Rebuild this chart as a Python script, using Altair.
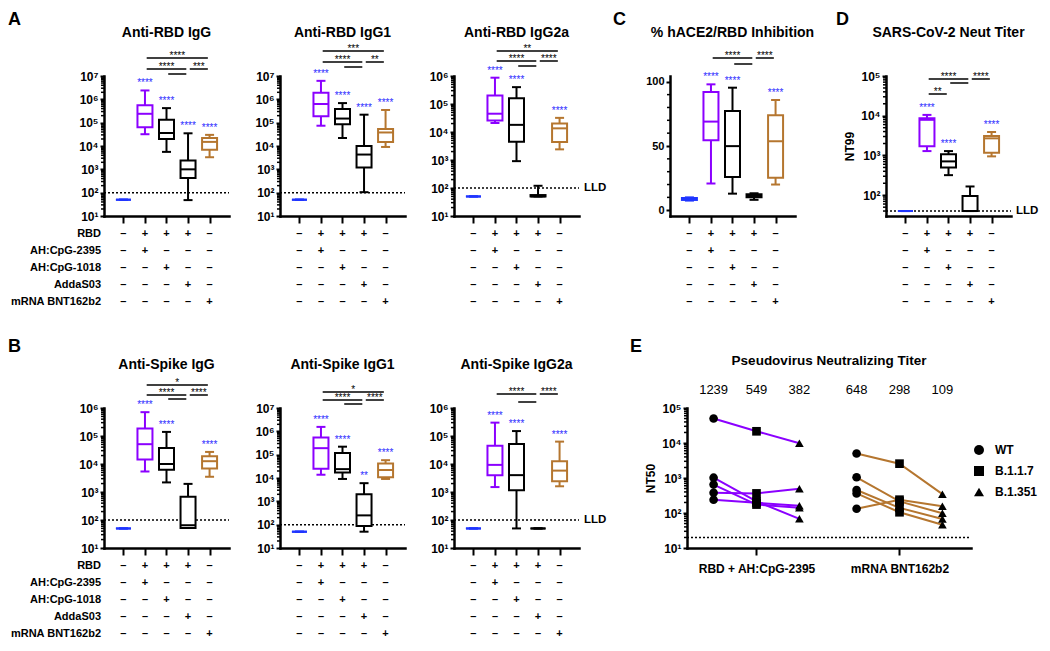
import altair as alt
import pandas as pd

FONT = "Liberation Sans"
PURPLE = "#8b00ff"
BROWN = "#b5762f"
BLACK = "#000000"
NAIVE_BLUE = "#1f35ff"
STAR_BLUE = "#2b2bff"

GROUPS = [1, 2, 3, 4, 5]
GROUP_COLORS = [NAIVE_BLUE, PURPLE, BLACK, BLACK, BROWN]

ROW_LABELS = ["RBD", "AH:CpG-2395", "AH:CpG-1018", "AddaS03", "mRNA BNT162b2"]
ROW_RBD = ["–", "+", "+", "+", "–"]
ROW_2395 = ["–", "+", "–", "–", "–"]
ROW_1018 = ["–", "–", "+", "–", "–"]
ROW_ADDA = ["–", "–", "–", "+", "–"]
ROW_MRNA = ["–", "–", "–", "–", "+"]

# box statistics per group: whisker low, Q1, median, Q3, whisker high
RBD_IGG = dict(
    lo=[50, 3.2e4, 5.6e3, 48, 3.3e3],
    q1=[50, 6.3e4, 2.0e4, 4.2e2, 6.9e3],
    med=[50, 2.4e5, 3.6e4, 1.0e3, 1.5e4],
    q3=[50, 5.6e5, 1.35e5, 2.4e3, 2.2e4],
    hi=[50, 2.4e6, 4.2e5, 3.5e4, 3.0e4],
)
RBD_IGG1 = dict(
    lo=[50, 7.4e4, 2.2e4, 105, 9.1e3],
    q1=[50, 1.9e5, 8.5e4, 1.2e3, 1.5e4],
    med=[50, 6.3e5, 1.5e5, 4.3e3, 3.8e4],
    q3=[50, 1.9e6, 3.9e5, 1.0e4, 5.4e4],
    hi=[50, 6.2e6, 6.9e5, 2.2e5, 3.5e5],
)
RBD_IGG2A = dict(
    lo=[50, 2.1e4, 9.1e2, 50, 2.4e3],
    q1=[50, 2.6e4, 4.5e3, 50, 4.4e3],
    med=[50, 4.5e4, 1.8e4, 50, 1.35e4],
    q3=[50, 2.0e5, 1.6e5, 56, 2.0e4],
    hi=[50, 8.7e5, 4.0e5, 120, 3.2e4],
)
HACE2_INHIB = dict(
    lo=[7.5, 20.8, 12.9, 8.1, 20.0],
    q1=[8.0, 54.4, 25.8, 10.1, 25.3],
    med=[8.6, 69.0, 49.9, 11.1, 53.7],
    q3=[9.5, 92.0, 77.2, 12.4, 73.9],
    hi=[10.0, 98.0, 95.4, 13.2, 85.8],
)
NEUT_NT99 = dict(
    lo=[40, 1.29e3, 3.2e2, 40, 9.5e2],
    q1=[40, 1.7e3, 5.0e2, 40, 1.17e3],
    med=[40, 7.9e3, 7.1e2, 40, 2.7e3],
    q3=[40, 8.7e3, 1.07e3, 95, 3.1e3],
    hi=[40, 1.05e4, 1.29e3, 166, 3.9e3],
)
SPIKE_IGG = dict(
    lo=[50, 5.4e3, 2.2e3, 52, 3.5e3],
    q1=[50, 1.45e4, 6.2e3, 52, 6.9e3],
    med=[50, 5.1e4, 1.0e4, 65, 1.26e4],
    q3=[50, 1.86e5, 3.7e4, 680, 1.9e4],
    hi=[50, 7.1e5, 1.4e5, 1.95e3, 2.7e4],
)
SPIKE_IGG1 = dict(
    lo=[50, 1.38e4, 9.1e3, 50, 9.1e3],
    q1=[50, 2.5e4, 1.7e4, 87, 1.07e4],
    med=[50, 1.9e5, 2.4e4, 250, 2.2e4],
    q3=[50, 5.4e5, 1.17e5, 2.0e3, 4.2e4],
    hi=[50, 1.55e6, 2.2e5, 6.0e3, 5.8e4],
)
SPIKE_IGG2A = dict(
    lo=[50, 1.5e3, 50, 50, 1.6e3],
    q1=[50, 4.0e3, 1.15e3, 50, 2.4e3],
    med=[50, 9.3e3, 4.0e3, 50, 5.8e3],
    q3=[50, 4.5e4, 5.2e4, 50, 1.26e4],
    hi=[50, 3.0e5, 1.5e5, 50, 6.3e4],
)

STARS_ALL = ["", "****", "****", "****", "****"]
STARS_NO_ADDA = ["", "****", "****", "", "****"]
STARS_SPIKE_IGG1 = ["", "****", "****", "**", "****"]

# significance brackets: (from group, to group, level, label)
BR_RBD_IGG = [(2, 5, 0, "****"), (2, 4, 1, "****"), (4, 5, 1, "***"), (3, 4, 2, "")]
BR_RBD_IGG1 = [(2, 5, 0, "***"), (2, 4, 1, "****"), (4, 5, 1, "**"), (3, 4, 2, "")]
BR_RBD_IGG2A = [(2, 5, 0, "**"), (2, 4, 1, "****"), (4, 5, 1, "****"), (3, 4, 2, "")]
BR_HACE2 = [(2, 4, 0, "****"), (4, 5, 0, "****"), (3, 4, 1, "")]
BR_NT99 = [(2, 4, 0, "****"), (4, 5, 0, "****"), (3, 4, 1, ""), (2, 3, 2, "**")]
BR_SPIKE_IGG = [(2, 5, 0, "*"), (2, 4, 1, "****"), (4, 5, 1, "****"), (3, 4, 2, "")]
BR_SPIKE_IGG1 = [(2, 5, 0, "*"), (2, 4, 1, "****"), (4, 5, 1, "****"), (3, 4, 2, "")]
BR_SPIKE_IGG2A = [(2, 4, 0, "****"), (4, 5, 0, "****"), (3, 4, 1, "")]

# Pseudovirus neutralization (NT50), five animals per vaccine
VARIANTS = ["WT", "B.1.1.7", "B.1.351"]
PV_RBD_WT = [50000, 1020, 650, 380, 240]
PV_RBD_B117 = [21600, 215, 174, 363, 195]
PV_RBD_B1351 = [9800, 68, 142, 490, 162]
PV_MRNA_WT = [5000, 1050, 455, 363, 132]
PV_MRNA_B117 = [2570, 215, 140, 105, 240]
PV_MRNA_B1351 = [345, 98, 67, 46, 156]
PV_GMT = [1239, 549, 382, 648, 298, 109]
PV_GROUP_LABELS = ["RBD + AH:CpG-2395", "mRNA BNT162b2"]

SUP = "['⁰','¹','²','³','⁴','⁵','⁶','⁷','⁸']"
LOG_LABEL = "'10' + " + SUP + "[round(log(datum.value)/LN10)]"

W = 125
H = 140
EW = 284
GAP_A = [51, 49]
GAP_CD = [91, 91]
GAP_E = 108
ROW_SPACING = 31
ROW2_Y = H + 163 + ROW_SPACING  # resulting offset between the two rows' plot tops


def log_minor(dmin, dmax):
    out = []
    e = 0
    while 10 ** e < dmax:
        for k in range(2, 10):
            v = k * 10 ** e
            if dmin < v < dmax:
                out.append(v)
        e += 1
    return out


def text_layer(txt, x, y, size, weight="bold", align="center", baseline="middle", color="black"):
    return alt.Chart(pd.DataFrame({"t": [txt]})).mark_text(
        font=FONT, fontSize=size, fontWeight=weight, align=align, baseline=baseline, color=color
    ).encode(x=alt.value(x), y=alt.value(y), text="t:N")


def spacer(wd):
    return alt.Chart(pd.DataFrame({"a": [0]})).mark_point(opacity=0).encode(
        x=alt.value(0), y=alt.value(0)).properties(width=wd, height=1)


def box_panel(title, stats, stars, brackets, levels, ydomain, major, log=True, minor=None,
              lld=None, lld_label=False, letter=None, letter_pos=(-96, -65), row_labels=False,
              ytitle=None, w=W, h=H):
    df = pd.DataFrame({
        "g": GROUPS, "col": GROUP_COLORS, "star": stars,
        "lo": stats["lo"], "q1": stats["q1"], "med": stats["med"], "q3": stats["q3"], "hi": stats["hi"],
        "tbl": ["\n".join(r) for r in zip(ROW_RBD, ROW_2395, ROW_1018, ROW_ADDA, ROW_MRNA)],
    })
    xs = alt.Scale(domain=[0.33, 5.67], nice=False, zero=False)
    xaxis = alt.Axis(values=GROUPS, labels=False, title=None, tickSize=7)

    def X(f):
        return alt.X(f + ":Q", scale=xs, axis=xaxis)

    if log:
        ys = alt.Scale(type="log", domain=ydomain, nice=False)
        yaxis = alt.Axis(values=major, title=ytitle, tickSize=4, labelExpr=LOG_LABEL, labelFontSize=12)
    else:
        ys = alt.Scale(domain=ydomain, nice=False, zero=False)
        yaxis = alt.Axis(values=major, title=ytitle, tickSize=4)

    def Y(f):
        return alt.Y(f + ":Q", scale=ys, axis=yaxis)

    col = alt.Color("col:N", scale=None)
    base = alt.Chart(df)
    layers = []
    if minor:
        layers.append(alt.Chart(pd.DataFrame({"v": minor})).mark_rule(strokeWidth=1.5, color="black")
                      .encode(x=alt.value(-3), x2=alt.value(0), y=Y("v")))
    if lld is not None:
        layers.append(alt.Chart(pd.DataFrame({"v": [lld]})).mark_rule(strokeDash=[2, 2], strokeWidth=1.5, color="black")
                      .encode(x=alt.value(0), x2=alt.value(w), y=Y("v")))
        if lld_label:
            layers.append(alt.Chart(pd.DataFrame({"v": [lld], "t": ["LLD"]})).mark_text(
                font=FONT, fontSize=11.5, fontWeight="bold", align="left", baseline="middle", color="black")
                .encode(x=alt.value(w + 5), y=Y("v"), text="t:N"))
    layers += [
        base.mark_rule(strokeWidth=2).encode(x=X("g"), y=Y("lo"), y2="hi:Q", color=col),
        base.mark_tick(orient="horizontal", size=9, thickness=2, opacity=1).encode(x=X("g"), y=Y("lo"), color=col),
        base.mark_tick(orient="horizontal", size=9, thickness=2, opacity=1).encode(x=X("g"), y=Y("hi"), color=col),
        base.mark_bar(size=15, fill="white", fillOpacity=1, strokeWidth=2)
            .encode(x=X("g"), y=Y("q1"), y2="q3:Q", stroke=alt.Stroke("col:N", scale=None)),
        base.mark_tick(orient="horizontal", size=15, thickness=2, opacity=1).encode(x=X("g"), y=Y("med"), color=col),
        base.mark_text(font=FONT, fontSize=10, color=STAR_BLUE, baseline="alphabetic", dy=-4)
            .encode(x=X("g"), y=Y("hi"), text="star:N"),
        base.mark_text(font=FONT, fontSize=11, fontWeight="bold", lineBreak="\n", lineHeight=17,
                       baseline="top", color="black")
            .encode(x=X("g"), y=alt.value(h + 12), text="tbl:N"),
    ]
    bdf = pd.DataFrame(brackets, columns=["a", "b", "lev", "lab"])
    bdf["x1"] = bdf["a"] + 0.08
    bdf["x2"] = bdf["b"] - 0.08
    bdf["xm"] = (bdf["a"] + bdf["b"]) / 2
    for lev in sorted(bdf["lev"].unique()):
        sub = bdf[bdf["lev"] == lev]
        py = levels[int(lev)]
        layers.append(alt.Chart(sub).mark_rule(strokeWidth=1.5, color="black")
                      .encode(x=X("x1"), x2="x2:Q", y=alt.value(py)))
        lab = sub[sub["lab"] != ""]
        if len(lab):
            layers.append(alt.Chart(lab).mark_text(font=FONT, fontSize=10, baseline="alphabetic", color="black")
                          .encode(x=X("xm"), y=alt.value(py + 1), text="lab:N"))
    layers.append(text_layer(title, w / 2, -43, 14))
    if row_labels:
        layers.append(alt.Chart(pd.DataFrame({"t": ["\n".join(ROW_LABELS)]})).mark_text(
            font=FONT, fontSize=11, fontWeight="bold", align="right", lineBreak="\n", lineHeight=17,
            baseline="top", color="black")
            .encode(x=alt.value(-3), y=alt.value(h + 12), text="t:N"))
    if letter:
        layers.append(text_layer(letter, letter_pos[0], letter_pos[1], 18, align="left", baseline="top"))
    return alt.layer(*layers).properties(width=w, height=h)


def pseudovirus_panel(legend_x, legend_y, w=EW, h=H):
    rows = []
    groups = [
        (PURPLE, [PV_RBD_WT, PV_RBD_B117, PV_RBD_B1351]),
        (BROWN, [PV_MRNA_WT, PV_MRNA_B117, PV_MRNA_B1351]),
    ]
    for gi, (c, series) in enumerate(groups):
        for vi, vals in enumerate(series):
            for a, v in enumerate(vals):
                rows.append({"animal": f"{gi}-{a}", "col": c, "variant": VARIANTS[vi],
                             "x": gi + 1 + (vi - 1) * 0.3, "v": v})
    df = pd.DataFrame(rows)
    xs = alt.Scale(domain=[0.514, 2.5], nice=False, zero=False)
    xaxis = alt.Axis(values=[1, 2], title=None, tickSize=7, labelPadding=8, labelFontSize=12,
                     labelExpr=f"datum.value == 1 ? '{PV_GROUP_LABELS[0]}' : '{PV_GROUP_LABELS[1]}'")
    ys = alt.Scale(type="log", domain=[10, 1e5], nice=False)
    yaxis = alt.Axis(values=[10, 100, 1000, 10000, 100000], title="NT50", tickSize=4,
                     labelExpr=LOG_LABEL, labelFontSize=12)

    def X(f):
        return alt.X(f + ":Q", scale=xs, axis=xaxis)

    def Y(f):
        return alt.Y(f + ":Q", scale=ys, axis=yaxis)

    gmt = pd.DataFrame({"x": [1 + (i % 3 - 1) * 0.3 + (i // 3) for i in range(6)], "t": [str(g) for g in PV_GMT]})
    layers = [
        alt.Chart(pd.DataFrame({"v": log_minor(10, 1e5)})).mark_rule(strokeWidth=1.5, color="black")
            .encode(x=alt.value(-3), x2=alt.value(0), y=Y("v")),
        alt.Chart(pd.DataFrame({"v": [20]})).mark_rule(strokeDash=[2, 2], strokeWidth=1.5, color="black")
            .encode(x=alt.value(0), x2=alt.value(w), y=Y("v")),
        alt.Chart(df).mark_line(strokeWidth=2).encode(
            x=X("x"), y=Y("v"), detail="animal:N", color=alt.Color("col:N", scale=None), order="x:Q"),
        alt.Chart(df).mark_point(filled=True, size=75, color="black", opacity=1).encode(
            x=X("x"), y=Y("v"),
            shape=alt.Shape("variant:N",
                            scale=alt.Scale(domain=VARIANTS, range=["circle", "square", "triangle-up"]),
                            legend=alt.Legend(title=None, orient="none", legendX=legend_x, legendY=legend_y,
                                              labelFont=FONT, labelFontSize=12, labelFontWeight="bold",
                                              labelColor="black", symbolSize=100, symbolFillColor="black",
                                              symbolStrokeColor="black", rowPadding=5, labelOffset=10))),
        alt.Chart(gmt).mark_text(font=FONT, fontSize=13, color="black").encode(
            x=X("x"), y=alt.value(-18), text="t:N"),
        text_layer("Pseudovirus Neutralizing Titer", w / 2, -47, 13.5),
        text_layer("E", -57, -70, 18, align="left", baseline="top"),
    ]
    return alt.layer(*layers).properties(width=w, height=h)


LOG7 = [10, 100, 1000, 10000, 100000, 1000000, 10000000]
LOG6 = LOG7[:-1]

a1 = box_panel("Anti-RBD IgG", RBD_IGG, STARS_ALL, BR_RBD_IGG, [-18, -7, -2], [10, 1e7], LOG7,
               minor=log_minor(10, 1e7), lld=100, letter="A", row_labels=True)
a2 = box_panel("Anti-RBD IgG1", RBD_IGG1, STARS_ALL, BR_RBD_IGG1, [-25, -14, -9], [10, 1e7], LOG7,
               minor=log_minor(10, 1e7), lld=100)
a3 = box_panel("Anti-RBD IgG2a", RBD_IGG2A, STARS_NO_ADDA, BR_RBD_IGG2A, [-25, -15, -10], [10, 1e6], LOG6,
               minor=log_minor(10, 1e6), lld=100, lld_label=True)
c = box_panel("% hACE2/RBD Inhibition", HACE2_INHIB, STARS_NO_ADDA, BR_HACE2, [-18, -12], [-4.5, 104.5],
              [0, 50, 100], log=False, minor=[10, 20, 30, 40, 60, 70, 80, 90], letter="C", letter_pos=(-57, -65))
d = box_panel("SARS-CoV-2 Neut Titer", NEUT_NT99, STARS_NO_ADDA, BR_NT99, [3, 7, 18], [30, 1e5],
              [100, 1000, 10000, 100000], minor=log_minor(30, 1e5), lld=40, lld_label=True,
              letter="D", letter_pos=(-50, -65), ytitle="NT99")
b1 = box_panel("Anti-Spike IgG", SPIKE_IGG, STARS_NO_ADDA, BR_SPIKE_IGG, [-23, -13, -9], [10, 1e6], LOG6,
               minor=log_minor(10, 1e6), lld=100, letter="B", letter_pos=(-96, -70), row_labels=True)
b2 = box_panel("Anti-Spike IgG1", SPIKE_IGG1, STARS_SPIKE_IGG1, BR_SPIKE_IGG1, [-16, -8, -4], [10, 1e7], LOG7,
               minor=log_minor(10, 1e7), lld=100)
b3 = box_panel("Anti-Spike IgG2a", SPIKE_IGG2A, STARS_NO_ADDA, BR_SPIKE_IGG2A, [-14, -6], [10, 1e6], LOG6,
               minor=log_minor(10, 1e6), lld=100, lld_label=True)

E_X = 3 * W + GAP_A[0] + GAP_A[1] + GAP_E
e = pseudovirus_panel(legend_x=E_X + EW + 2, legend_y=ROW2_Y + 34)

row1 = alt.hconcat(a1, spacer(GAP_A[0]), a2, spacer(GAP_A[1]), a3, spacer(GAP_CD[0]), c, spacer(GAP_CD[1]), d,
                   spacing=0, bounds="flush")
row2 = alt.hconcat(b1, spacer(GAP_A[0]), b2, spacer(GAP_A[1]), b3, spacer(GAP_E), e, spacing=0, bounds="flush")

chart = alt.vconcat(row1, row2, spacing=ROW_SPACING, bounds="full").properties(
    padding={"left": 0, "top": 3, "right": 0, "bottom": 0}
).configure_view(stroke=None).configure_axis(
    grid=False, domainColor="black", domainWidth=2.5, domainCap="square", tickColor="black", tickWidth=2,
    labelColor="black", labelFont=FONT, labelFontSize=11, labelFontWeight="bold", labelPadding=2,
    titleColor="black", titleFont=FONT, titleFontSize=12, titleFontWeight="bold",
)

chart.save("out.html", embed_options={"renderer": "svg", "actions": False})
